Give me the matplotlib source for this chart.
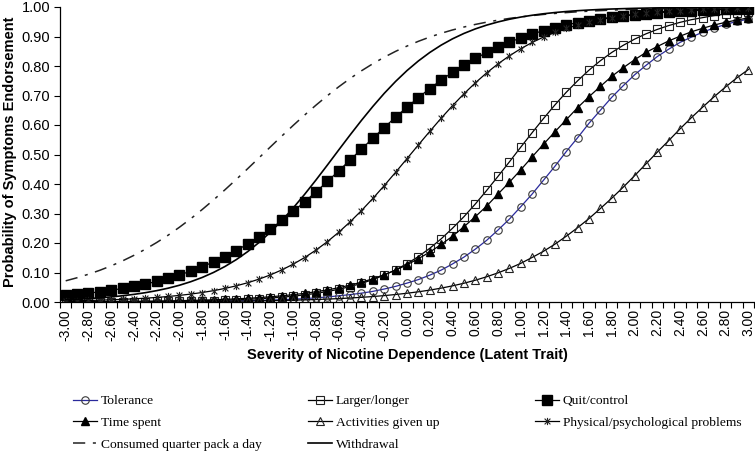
import matplotlib
matplotlib.use("Agg")
import matplotlib.pyplot as plt
from matplotlib.path import Path

# ---- data ----
theta = [round(-3.0 + 0.1 * i, 1) for i in range(61)]
tick_values = [round(-3.0 + 0.2 * i, 1) for i in range(31)]
tick_labels = [f"{v:.2f}".replace("-0.00", "0.00") for v in tick_values]
y_ticks = [0.0, 0.1, 0.2, 0.3, 0.4, 0.5, 0.6, 0.7, 0.8, 0.9, 1.0]

tolerance = [0.0002, 0.0002, 0.0003, 0.0003, 0.0004, 0.0005, 0.0006, 0.0008, 0.0009, 0.0011,
             0.0014, 0.0017, 0.0020, 0.0025, 0.0030, 0.0036, 0.0044, 0.0053, 0.0065, 0.0078,
             0.0096, 0.0115, 0.014, 0.017, 0.021, 0.025, 0.030, 0.036, 0.044, 0.053,
             0.064, 0.076, 0.091, 0.108, 0.129, 0.152, 0.179, 0.209, 0.244, 0.281,
             0.323, 0.366, 0.413, 0.460, 0.510, 0.557, 0.606, 0.650, 0.694, 0.733,
             0.770, 0.802, 0.832, 0.857, 0.880, 0.898, 0.915, 0.929, 0.941, 0.951,
             0.959]
larger_longer = [0.0004, 0.0005, 0.0006, 0.0007, 0.0008, 0.0010, 0.0012, 0.0015, 0.0018, 0.0022,
                 0.0027, 0.0033, 0.0041, 0.0050, 0.0061, 0.0074, 0.0090, 0.0110, 0.0134, 0.0163,
                 0.0198, 0.0241, 0.0293, 0.0356, 0.0431, 0.0522, 0.0630, 0.0759, 0.0911, 0.109,
                 0.130, 0.154, 0.182, 0.214, 0.250, 0.289, 0.332, 0.378, 0.426, 0.475,
                 0.525, 0.574, 0.622, 0.668, 0.711, 0.750, 0.786, 0.818, 0.846, 0.870,
                 0.891, 0.909, 0.924, 0.937, 0.948, 0.957, 0.964, 0.971, 0.976, 0.980,
                 0.984]
quit_control = [0.0224, 0.0259, 0.0300, 0.0346, 0.0398, 0.0459, 0.0529, 0.0607, 0.0698, 0.0800,
                0.0916, 0.1047, 0.1194, 0.1359, 0.1542, 0.1745, 0.1968, 0.2213, 0.2479, 0.2765,
                0.3070, 0.3394, 0.3733, 0.4085, 0.4447, 0.4815, 0.5185, 0.5553, 0.5915, 0.6267,
                0.6606, 0.6930, 0.7235, 0.7521, 0.7787, 0.8032, 0.8255, 0.8458, 0.8641, 0.8806,
                0.8953, 0.9084, 0.9200, 0.9302, 0.9393, 0.9471, 0.9541, 0.9602, 0.9654, 0.9700,
                0.9741, 0.9776, 0.9806, 0.9832, 0.9855, 0.9875, 0.9892, 0.9907, 0.9919, 0.9930,
                0.9940]
time_spent = [0.0008, 0.0010, 0.0011, 0.0013, 0.0016, 0.0019, 0.0023, 0.0027, 0.0032, 0.0038,
              0.0045, 0.0054, 0.0064, 0.0075, 0.0089, 0.0107, 0.0126, 0.0149, 0.0178, 0.0210,
              0.0249, 0.0293, 0.0349, 0.0411, 0.0484, 0.0573, 0.0672, 0.0787, 0.0928, 0.108,
              0.126, 0.147, 0.169, 0.195, 0.223, 0.255, 0.289, 0.325, 0.366, 0.406,
              0.448, 0.492, 0.535, 0.577, 0.618, 0.659, 0.696, 0.731, 0.765, 0.794,
              0.821, 0.846, 0.866, 0.885, 0.901, 0.916, 0.928, 0.939, 0.948, 0.956,
              0.963]
activities_given_up = [0.0003, 0.0003, 0.0003, 0.0004, 0.0005, 0.0006, 0.0007, 0.0008, 0.0009, 0.0011,
                       0.0012, 0.0015, 0.0017, 0.0020, 0.0024, 0.0028, 0.0032, 0.0038, 0.0045, 0.0052,
                       0.0061, 0.0072, 0.0084, 0.0099, 0.0115, 0.0135, 0.0158, 0.0185, 0.0217, 0.0254,
                       0.0297, 0.0346, 0.0403, 0.0470, 0.0547, 0.0636, 0.0738, 0.0855, 0.0988, 0.114,
                       0.131, 0.151, 0.172, 0.196, 0.223, 0.252, 0.283, 0.317, 0.352, 0.389,
                       0.428, 0.468, 0.508, 0.547, 0.587, 0.625, 0.661, 0.696, 0.729, 0.760,
                       0.788]
physical_psych = [0.0036, 0.0043, 0.0051, 0.0062, 0.0075, 0.0090, 0.0108, 0.0129, 0.0155, 0.0187,
                  0.0224, 0.0269, 0.0322, 0.0385, 0.0460, 0.0549, 0.0653, 0.0776, 0.0920, 0.1088,
                  0.1283, 0.1506, 0.1760, 0.2045, 0.2365, 0.2717, 0.3100, 0.3511, 0.3946, 0.4398,
                  0.4860, 0.5325, 0.5783, 0.6229, 0.6655, 0.7056, 0.7427, 0.7766, 0.8072, 0.8345,
                  0.8586, 0.8798, 0.8981, 0.9139, 0.9275, 0.9390, 0.9488, 0.9571, 0.9642, 0.9700,
                  0.9750, 0.9792, 0.9826, 0.9856, 0.9880, 0.9900, 0.9917, 0.9931, 0.9942, 0.9952,
                  0.9960]
consumed_quarter = [0.0718, 0.0822, 0.0941, 0.1075, 0.1226, 0.1394, 0.1582, 0.1789, 0.2017, 0.2264,
                    0.2535, 0.2825, 0.3135, 0.3462, 0.3804, 0.4158, 0.4521, 0.4890, 0.5260, 0.5627,
                    0.5987, 0.6337, 0.6673, 0.6993, 0.7295, 0.7577, 0.7838, 0.8078, 0.8298, 0.8497,
                    0.8676, 0.8837, 0.8981, 0.9109, 0.9222, 0.9321, 0.9409, 0.9486, 0.9554, 0.9613,
                    0.9664, 0.9709, 0.9748, 0.9782, 0.9811, 0.9837, 0.9859, 0.9878, 0.9895, 0.9909,
                    0.9922, 0.9932, 0.9941, 0.9950, 0.9956, 0.9962, 0.9968, 0.9972, 0.9976, 0.9979,
                    0.9982]
withdrawal = [0.0077, 0.0094, 0.0116, 0.0141, 0.0173, 0.0212, 0.0259, 0.0316, 0.0385, 0.0468,
              0.0568, 0.0689, 0.0832, 0.1003, 0.1204, 0.1438, 0.1709, 0.2020, 0.2370, 0.2761,
              0.3189, 0.3649, 0.4136, 0.4641, 0.5155, 0.5663, 0.6158, 0.6630, 0.7073, 0.7478,
              0.7845, 0.8171, 0.8458, 0.8707, 0.8921, 0.9103, 0.9257, 0.9386, 0.9494, 0.9584,
              0.9659, 0.9720, 0.9771, 0.9812, 0.9847, 0.9875, 0.9898, 0.9917, 0.9932, 0.9944,
              0.9955, 0.9963, 0.9970, 0.9975, 0.9980, 0.9984, 0.9987, 0.9989, 0.9991, 0.9993,
              0.9994]

# ---- figure ----
W, H = 755, 455
fig = plt.figure(figsize=(W / 100, H / 100), dpi=100)
ax = fig.add_axes([60 / W, (H - 302) / H, 694 / W, 295 / H])

sans = ["Liberation Sans", "DejaVu Sans"]
serif = ["Liberation Serif", "DejaVu Serif"]

star = Path([(-1, -1), (1, 1), (-1, 1), (1, -1), (0, -1.25), (0, 1.25)],
            [Path.MOVETO, Path.LINETO, Path.MOVETO, Path.LINETO, Path.MOVETO, Path.LINETO])

lw = 0.9
h_tol, = ax.plot(theta, tolerance, color="#2a2a9c", lw=0.9, marker="o", ms=5.4,
                 mfc="none", mec="#3a3a3a", mew=0.8, label="Tolerance")
h_lar, = ax.plot(theta, larger_longer, color="black", lw=lw, marker="s", ms=5.4,
                 mfc="none", mec="#222222", mew=0.8, label="Larger/longer")
h_qui, = ax.plot(theta, quit_control, color="black", lw=lw, marker="s", ms=6.8,
                 mfc="black", mec="black", label="Quit/control")
h_tim, = ax.plot(theta, time_spent, color="black", lw=lw, marker="^", ms=6.3,
                 mfc="black", mec="black", label="Time spent")
h_act, = ax.plot(theta, activities_given_up, color="black", lw=lw, marker="^", ms=5.8,
                 mfc="none", mec="#222222", mew=0.8, label="Activities given up")
h_phy, = ax.plot(theta, physical_psych, color="black", lw=lw, marker=star, ms=5.2,
                 mfc="none", mec="#222222", mew=0.8, label="Physical/psychological problems")
h_con, = ax.plot(theta, consumed_quarter, color="#222222", lw=1.1,
                 dashes=(8, 5, 2, 5), label="Consumed quarter pack a day")
h_wit, = ax.plot(theta, withdrawal, color="black", lw=1.2, label="Withdrawal")

ax.set_xlim(-3.05, 3.05)
ax.set_ylim(0, 1.0)
ax.set_xticks(tick_values)
ax.set_xticklabels(tick_labels, rotation=90, fontsize=10, family=sans)
ax.set_xticks([round(-3.05 + 0.1 * i, 2) for i in range(62)], minor=True)
ax.tick_params(axis="x", which="major", length=0, pad=5)
ax.tick_params(axis="x", which="minor", length=4, width=0.8, direction="out")
ax.set_yticks(y_ticks)
ax.set_yticklabels([f"{v:.2f}" for v in y_ticks], fontsize=10.5, family=sans)
ax.tick_params(axis="y", length=4, width=0.8, direction="out", pad=3)

for s in ("top", "right"):
    ax.spines[s].set_visible(False)
for s in ("left", "bottom"):
    ax.spines[s].set_linewidth(0.9)

ax.set_ylabel("Probability of Symptoms Endorsement", fontsize=10.5, fontweight="bold", family=sans)
ax.yaxis.set_label_coords(-43 / 694, 0.51)
ax.set_xlabel("Severity of Nicotine Dependence (Latent Trait)", fontsize=10.5,
              fontweight="bold", family=sans)
ax.xaxis.set_label_coords(0.5, -(355 - 302) / 295)
ax.xaxis.label.set_va("center")

# ---- legend: three columns placed like the reference ----
cols = [
    ([h_tol, h_tim, h_con], 73),
    ([h_lar, h_act, h_wit], 308),
    ([h_qui, h_phy], 535),
]
top_y = 395
for handles, x0 in cols:
    fig.legend(handles=handles, labels=[h.get_label() for h in handles],
               loc="upper left", bbox_to_anchor=(x0 / W, 1 - top_y / H),
               frameon=False, borderpad=0, borderaxespad=0,
               handlelength=1.75, handletextpad=0.3, labelspacing=0.68,
               prop={"family": serif, "size": 9.7})

fig.savefig("out.png", dpi=100)
